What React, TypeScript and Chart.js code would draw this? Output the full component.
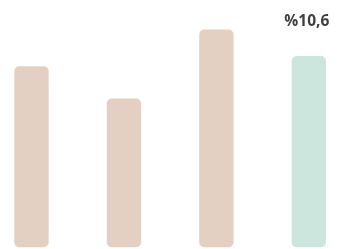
import React, { useEffect, useRef } from "react";
import { Chart, registerables } from "chart.js";

Chart.register(...registerables);

const categories = ["1", "2", "3", "4"];
const values = [10.03, 8.24, 12.06, 10.6];
const barColors = ["#e4d0c3", "#e4d0c3", "#e4d0c3", "#cce6de"];
const labelText = "%10,6";
const labelIndex = 3;

const labelPlugin = {
  id: "lastLabel",
  afterDatasetsDraw(chart: any) {
    const meta = chart.getDatasetMeta(0);
    const bar = meta.data[labelIndex];
    if (!bar) return;
    const ctx = chart.ctx;
    ctx.save();
    ctx.font = "bold 15.5px 'Open Sans'";
    ctx.fillStyle = "#3f3f3f";
    ctx.textAlign = "center";
    ctx.textBaseline = "alphabetic";
    ctx.fillText(labelText, bar.x - 2, bar.y - 30);
    ctx.restore();
  },
};

export default function App() {
  const ref = useRef<HTMLCanvasElement>(null);
  useEffect(() => {
    document.body.style.margin = "0";
    const chart = new Chart(ref.current!, {
      type: "bar",
      data: {
        labels: categories,
        datasets: [
          {
            data: values,
            backgroundColor: barColors,
            borderRadius: 5,
            borderSkipped: false,
            barPercentage: 1,
            categoryPercentage: 0.372,
            clip: false as any,
          },
        ],
      },
      options: {
        animation: false,
        responsive: false,
        maintainAspectRatio: false,
        layout: { padding: { left: 31.5, right: 34.2, top: 0, bottom: 1.7 } },
        plugins: { legend: { display: false }, tooltip: { enabled: false } },
        scales: {
          x: { display: false, offset: false },
          y: { display: false, min: 0, max: 13.7 },
        },
      },
      plugins: [labelPlugin],
    });
    return () => chart.destroy();
  }, []);
  return (
    <div style={{ width: 343, height: 249 }}>
      <canvas ref={ref} width={343} height={249} />
    </div>
  );
}
